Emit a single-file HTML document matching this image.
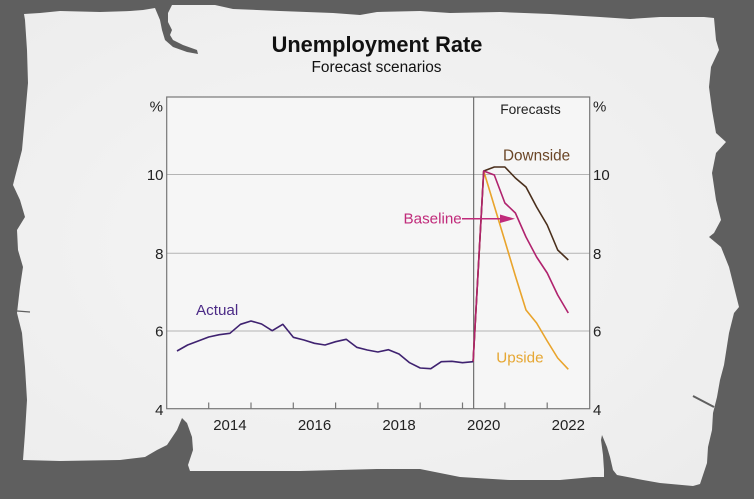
<!DOCTYPE html>
<html>
<head>
<meta charset="utf-8">
<style>
  html,body{margin:0;padding:0;background:#5f5f5f;}
  body{width:754px;height:499px;overflow:hidden;}
  svg{display:block;}
  text{font-family:"Liberation Sans",Arial,sans-serif;}
</style>
</head>
<body>
<svg width="754" height="499" viewBox="0 0 754 499" xmlns="http://www.w3.org/2000/svg">
  <defs>
    <radialGradient id="pg" cx="0.45" cy="0.5" r="0.7">
      <stop offset="0" stop-color="#f6f6f6"/>
      <stop offset="1" stop-color="#ececec"/>
    </radialGradient>
  </defs>
  <rect x="0" y="0" width="754" height="499" fill="#5f5f5f"/>
  <!-- torn paper -->
  <path fill="url(#pg)" d="M25,20 L24,14 L40,13 L60,11 L100,12 L130,11 L143,10 L155,8
    L160,20 L162,30 L165,40 L173,47 L187,52 L198,54 L197,50 L183,45 L173,40 L170,35 L172,30 L168,22 L168,13 L172,5
    L215,5 L233,9 L280,11 L333,13 L360,15 L377,12 L420,11 L450,13 L500,12 L550,14 L600,17 L630,19 L660,17 L704,17
    L714,18 L716,40 L719,50 L711,67 L709,87 L712,110 L716,133 L726,142 L716,153 L712,173 L716,200 L721,220 L714,233
    L709,237 L721,247 L729,267 L734,287 L739,307 L734,313 L729,333 L724,365 L720,380 L717,397 L713,413 L712,430
    L708,447 L707,463 L700,484 L693,486 L660,483 L643,480 L617,475 L613,470 L610,457 L607,447 L602,435 L601,440
    L603,455 L604,470 L604,477 L593,477 L560,480 L510,480
    L460,477 L420,469 L377,469 L300,471 L190,471 L188,465 L193,450 L192,437 L187,423 L182,418 L177,430 L167,445
    L157,450 L145,457 L120,460 L60,461 L23,460 L25,433 L27,400 L25,367 L22,333 L17,313 L20,287 L23,267 L18,250
    L17,230 L25,217 L20,200 L13,185 L15,177 L22,150 L25,117 L28,83 L27,50 Z"/>
  <line x1="693" y1="396" x2="714" y2="407" stroke="#5f5f5f" stroke-width="2"/>
  <line x1="17" y1="311" x2="30" y2="312" stroke="#5f5f5f" stroke-width="1.2"/>

  <!-- title -->
  <text x="377" y="52" text-anchor="middle" font-size="21.8" font-weight="bold" fill="#111">Unemployment Rate</text>
  <text x="376.5" y="72" text-anchor="middle" font-size="15.4" fill="#111">Forecast scenarios</text>

  <!-- plot area -->
  <rect x="166.7" y="97" width="423" height="311.7" fill="#f6f6f6"/>
  <!-- gridlines -->
  <g stroke="#b4b4b4" stroke-width="1">
    <line x1="166.7" y1="174.5" x2="589.7" y2="174.5"/>
    <line x1="166.7" y1="253.3" x2="589.7" y2="253.3"/>
    <line x1="166.7" y1="331" x2="589.7" y2="331"/>
  </g>
  <!-- forecast divider -->
  <line x1="473.7" y1="97" x2="473.7" y2="408.7" stroke="#555" stroke-width="1"/>
  <!-- border -->
  <rect x="166.7" y="97" width="423" height="311.7" fill="none" stroke="#777" stroke-width="1.2"/>
  <!-- ticks -->
  <g stroke="#777" stroke-width="1.2">
    <line x1="208.7" y1="408.7" x2="208.7" y2="402.5"/>
    <line x1="251" y1="408.7" x2="251" y2="402.5"/>
    <line x1="293.3" y1="408.7" x2="293.3" y2="402.5"/>
    <line x1="335.6" y1="408.7" x2="335.6" y2="402.5"/>
    <line x1="377.9" y1="408.7" x2="377.9" y2="402.5"/>
    <line x1="420.2" y1="408.7" x2="420.2" y2="402.5"/>
    <line x1="462.5" y1="408.7" x2="462.5" y2="402.5"/>
    <line x1="504.9" y1="408.7" x2="504.9" y2="402.5"/>
    <line x1="547.2" y1="408.7" x2="547.2" y2="402.5"/>
  </g>

  <!-- axis labels -->
  <g font-size="15" fill="#222">
    <text x="163" y="111.5" text-anchor="end">%</text>
    <text x="163.5" y="180" text-anchor="end">10</text>
    <text x="163.5" y="258.8" text-anchor="end">8</text>
    <text x="163.5" y="336.5" text-anchor="end">6</text>
    <text x="163.5" y="415" text-anchor="end">4</text>
    <text x="593" y="111.5">%</text>
    <text x="593" y="180">10</text>
    <text x="593" y="258.8">8</text>
    <text x="593" y="336.5">6</text>
    <text x="593" y="415">4</text>
    <text x="229.9" y="430" text-anchor="middle">2014</text>
    <text x="314.5" y="430" text-anchor="middle">2016</text>
    <text x="399" y="430" text-anchor="middle">2018</text>
    <text x="483.7" y="430" text-anchor="middle">2020</text>
    <text x="568.3" y="430" text-anchor="middle">2022</text>
  </g>
  <text x="530.5" y="114" text-anchor="middle" font-size="13.8" fill="#222">Forecasts</text>

  <!-- series -->
  <g fill="none" stroke-width="1.6" stroke-linejoin="round">
    <polyline stroke="#e9a42c" points="473.1,361.7 483.7,171 494.3,206 504.9,241 515.4,276 526,310 536.6,323 547.2,341 557.7,358 568.3,369.3"/>
    <polyline stroke="#4a2f1c" points="473.1,361.7 483.7,171 494.3,167 504.9,167 515.4,178 526,187 536.6,207 547.2,225 557.7,250 568.3,260"/>
    <polyline stroke="#b0236e" points="473.1,361.7 483.7,171 494.3,175 504.9,203 515.4,213 526,237 536.6,257 547.2,273 557.7,295 568.3,313"/>
    <polyline stroke="#3f2270" points="177,351 187.6,345 198.2,341 208.7,337 219.3,334.7 229.9,333.3 240.5,324.3 251,321 261.6,324 272.2,330.7 282.8,324.3 293.3,337.3 303.9,340 314.5,343.3 325,345 335.6,341.7 346.2,339.3 356.7,347.3 367.3,350 377.9,352 388.5,349.7 399,354 409.6,362.7 420.2,368 430.8,368.7 441.3,361.7 451.9,361.3 462.5,362.7 473.1,361.7"/>
  </g>

  <!-- series labels -->
  <text x="196" y="315" font-size="15.2" fill="#4b2a86">Actual</text>
  <text x="503" y="160.5" font-size="15.3" fill="#6a4526">Downside</text>
  <text x="403.5" y="223.5" font-size="15.2" fill="#c02a7a">Baseline</text>
  <text x="496.3" y="362.5" font-size="15.2" fill="#e6a733">Upside</text>
  <!-- baseline arrow -->
  <line x1="462" y1="218.8" x2="502" y2="218.8" stroke="#c02a7a" stroke-width="1.5"/>
  <polygon points="500,214.5 515,218.8 500,223" fill="#c02a7a"/>
</svg>
</body>
</html>
